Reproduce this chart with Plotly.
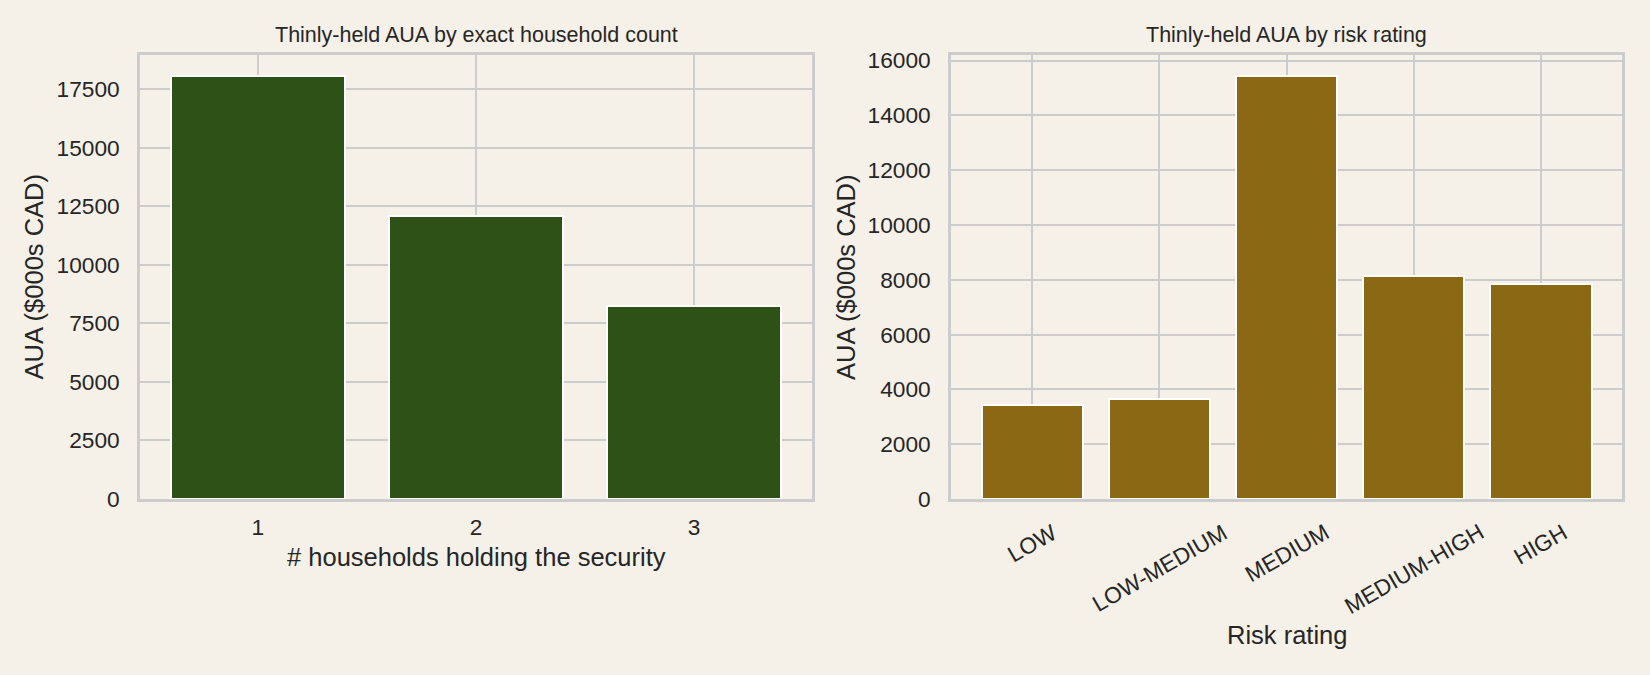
import plotly.graph_objects as go

# ---- data ----
household_counts = ["1", "2", "3"]
aua_by_household = [18050, 12060, 8220]

risk_ratings = ["LOW", "LOW-MEDIUM", "MEDIUM", "MEDIUM-HIGH", "HIGH"]
aua_by_risk = [3430, 3650, 15430, 8120, 7840]

# ---- styling ----
BG = "#f5f0e8"
GREEN = "#2e5118"
BROWN = "#8b6914"
GRID = "#cccccc"
TXT = "#262626"
FONT = "Liberation Sans, Arial, sans-serif"
W, H = 1650, 675
TICK_SIZE = 22.7
LABEL_SIZE = 25.5
TITLE_SIZE = 21.5

def px_x(p):
    return p / W

def px_y(p):
    return 1 - p / H

top_px, bot_px = 55, 499
dom_y = [px_y(bot_px), px_y(top_px)]
dom_x1 = [px_x(140), px_x(812)]
dom_x2 = [px_x(951), px_x(1622)]

fig = go.Figure()
fig.add_trace(go.Bar(
    x=household_counts, y=aua_by_household, width=0.8,
    marker=dict(color=GREEN, line=dict(color="white", width=2)),
    xaxis="x", yaxis="y", showlegend=False,
))
fig.add_trace(go.Bar(
    x=risk_ratings, y=aua_by_risk, width=0.8,
    marker=dict(color=BROWN, line=dict(color="white", width=2)),
    xaxis="x2", yaxis="y2", showlegend=False,
))

axis_common = dict(
    showgrid=True, gridcolor=GRID, gridwidth=1.8,
    showline=True, mirror=True, linecolor=GRID, linewidth=2.6,
    zeroline=False, ticks="", automargin=False,
    tickfont=dict(family=FONT, size=TICK_SIZE, color=TXT),
)

n1 = len(household_counts)
n2 = len(risk_ratings)
ymax1 = max(aua_by_household) * 1.05
ymax2 = max(aua_by_risk) * 1.05

fig.update_layout(
    width=W, height=H,
    margin=dict(l=0, r=0, t=0, b=0, pad=0, autoexpand=False),
    paper_bgcolor=BG, plot_bgcolor=BG,
    bargap=0,
    font=dict(family=FONT, color=TXT),
    xaxis=dict(domain=dom_x1, anchor="y", type="category",
               range=[-0.54, n1 - 1 + 0.54], ticklabelstandoff=6, **axis_common),
    yaxis=dict(domain=dom_y, anchor="x", range=[0, ymax1], dtick=2500,
               tickformat="d", ticklabelstandoff=13, **axis_common),
    xaxis2=dict(domain=dom_x2, anchor="y2", type="category",
                range=[-0.64, n2 - 1 + 0.64], showticklabels=False,
                **axis_common),
    yaxis2=dict(domain=dom_y, anchor="x2", range=[0, ymax2], dtick=2000,
                tickformat="d", ticklabelstandoff=13, **axis_common),
)

annotations = []
# titles
for txt, dom in (("Thinly-held AUA by exact household count", dom_x1),
                 ("Thinly-held AUA by risk rating", dom_x2)):
    annotations.append(dict(text=txt, x=(dom[0] + dom[1]) / 2, y=px_y(35),
                            xref="paper", yref="paper", showarrow=False,
                            xanchor="center", yanchor="middle",
                            font=dict(family=FONT, size=TITLE_SIZE, color=TXT)))
# x axis titles
annotations.append(dict(text="# households holding the security",
                        x=(dom_x1[0] + dom_x1[1]) / 2, y=px_y(557),
                        xref="paper", yref="paper", showarrow=False,
                        xanchor="center", yanchor="middle",
                        font=dict(family=FONT, size=LABEL_SIZE, color=TXT)))
annotations.append(dict(text="Risk rating",
                        x=(dom_x2[0] + dom_x2[1]) / 2, y=px_y(635),
                        xref="paper", yref="paper", showarrow=False,
                        xanchor="center", yanchor="middle",
                        font=dict(family=FONT, size=LABEL_SIZE, color=TXT)))
# y axis titles
for xc in (33.5, 846):
    annotations.append(dict(text="AUA ($000s CAD)",
                            x=px_x(xc), y=(dom_y[0] + dom_y[1]) / 2,
                            xref="paper", yref="paper", showarrow=False,
                            xanchor="center", yanchor="middle", textangle=-90,
                            font=dict(family=FONT, size=LABEL_SIZE, color=TXT)))
# rotated category labels (centered on ticks, like matplotlib rotation=30)
for cat in risk_ratings:
    annotations.append(dict(text=cat, x=cat, y=0, xref="x2", yref="y2",
                            showarrow=False, xanchor="center", yanchor="top",
                            yshift=-17, textangle=-30,
                            font=dict(family=FONT, size=TICK_SIZE, color=TXT)))

fig.update_layout(annotations=annotations)

fig.write_html("out.html")
